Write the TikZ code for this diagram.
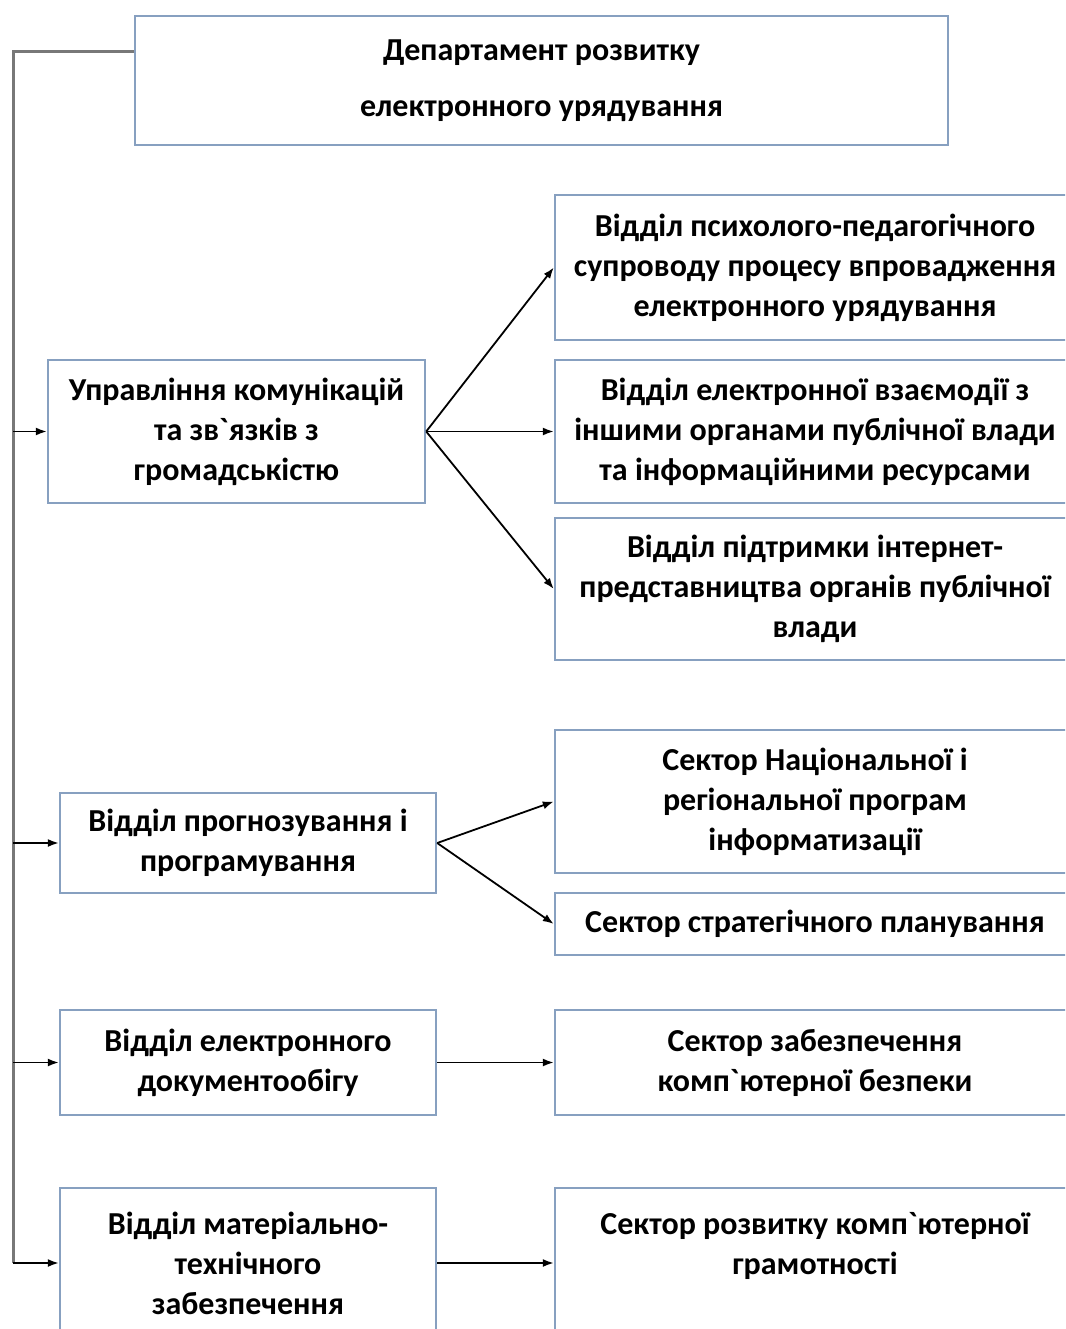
\documentclass[tikz,border=0pt]{standalone}
\usepackage{fontspec}
\setmainfont{Carlito}
\usetikzlibrary{positioning, arrows.meta}
\definecolor{boxline}{RGB}{135,160,192}
\definecolor{trunkgray}{RGB}{120,120,120}

\begin{document}
\begin{tikzpicture}[
    x=1pt, y=-1pt,
    >={Latex[length=11pt,width=8pt]},
    unit/.style={
        draw=boxline,
        line width=2.4pt,
        fill=white,
        align=center,
        inner sep=0pt,
        font=\fontsize{32}{40}\selectfont\bfseries
    },
    leftunit/.style={unit, minimum width=376pt},
    rightunit/.style={unit, minimum width=520pt},
    trunk/.style={draw=trunkgray, line width=3pt},
    link/.style={->, line width=1.8pt}
]
\fill[white] (0,0) rectangle (1065,1329);
\path[use as bounding box] (0,0) rectangle (1065,1329);
\clip (0,0) rectangle (1065,1329);

% head
\node[unit, minimum width=813pt, minimum height=129pt] (dept) at (541.5,80.5)
    {Департамент розвитку\\[16pt]електронного урядування};

% left column
\node[unit, minimum width=377pt, minimum height=143pt] (comm) at (236.5,431.5)
    {Управління комунікацій\\та зв\textasciigrave язків з\\громадськістю};
\node[leftunit, minimum height=100pt] (prog) at (248,843)
    {Відділ прогнозування і\\програмування};
\node[leftunit, minimum height=105pt] (docs) at (248,1062.5)
    {Відділ електронного\\документообігу};
\node[leftunit, minimum height=150pt] (supply) at (248,1263)
    {Відділ матеріально-\\технічного\\забезпечення};

% right column
\node[rightunit, minimum height=145pt] (psych) at (815,267.5)
    {Відділ психолого-педагогічного\\супроводу процесу впровадження\\електронного урядування};
\node[rightunit, minimum height=143pt] (interact) at (815,431.5)
    {Відділ електронної взаємодії з\\іншими органами публічної влади\\та інформаційними ресурсами};
\node[rightunit, minimum height=142pt] (web) at (815,589)
    {Відділ підтримки інтернет-\\представництва органів публічної\\влади};
\node[rightunit, minimum height=143pt] (natprog) at (815,801.5)
    {Сектор Національної і\\регіональної програм\\інформатизації};
\node[rightunit, minimum height=62pt] (plan) at (815,924)
    {Сектор стратегічного планування};
\node[rightunit, minimum height=105pt] (security) at (815,1062.5)
    {Сектор забезпечення\\комп\textasciigrave ютерної безпеки};
\node[rightunit, minimum height=150pt] (literacy) at (815,1263)
    {Сектор розвитку комп\textasciigrave ютерної\\грамотності\\\mbox{}};

% trunk on the left
\coordinate (trunktop) at (13,52);
\draw[trunk] ([yshift=28.5pt]dept.west) -- (trunktop) -- (supply.west -| trunktop);
\draw[link] (comm.west -| trunktop) -- (comm.west);
\draw[link] (prog.west -| trunktop) -- (prog.west);
\draw[link] (docs.west -| trunktop) -- (docs.west);
\draw[link] (supply.west -| trunktop) -- (supply.west);

% branches
\path[link]
(comm.east) edge (psych.west)
(comm.east) edge (interact.west)
(comm.east) edge (web.west)
(prog.east) edge (natprog.west)
(prog.east) edge (plan.west)
(docs.east) edge (security.west)
(supply.east) edge (literacy.west);
\end{tikzpicture}
\end{document}
